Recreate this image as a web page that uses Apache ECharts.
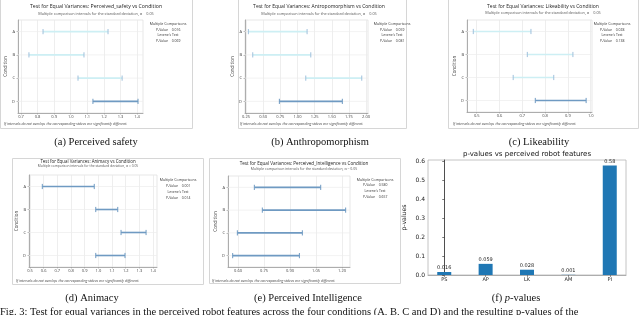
<!DOCTYPE html>
<html>
<head>
<meta charset="utf-8">
<script src="https://cdn.jsdelivr.net/npm/echarts@6/dist/echarts.min.js"></script>
<style>
html,body{margin:0;padding:0;background:#fff;}
#main{width:640px;height:315px;}
</style>
</head>
<body>
<div id="main"></div>
<script>
// ---------- DATA ----------
// Condition categories, bottom to top on the y axis
const conditionAxis = ['D', 'C', 'B', 'A'];
// Interval values are listed in A, B, C, D order
const safetyLow  = [0.833, 0.748, 1.044, 1.134];
const safetyHigh = [1.225, 1.080, 1.310, 1.406];
const safetyLight = [1, 1, 1, 0];
const safetyTicks = [0.7, 0.8, 0.9, 1.0, 1.1, 1.2, 1.3, 1.4];

const anthroLow  = [0.284, 0.348, 1.121, 0.736];
const anthroHigh = [1.140, 1.194, 1.937, 1.654];
const anthroLight = [1, 1, 1, 0];
const anthroTicks = [0.25, 0.50, 0.75, 1.00, 1.25, 1.50, 1.75, 2.00];

const likeLow  = [0.485, 0.722, 0.660, 0.757];
const likeHigh = [0.738, 0.922, 0.838, 0.980];
const likeLight = [1, 1, 1, 0];
const likeTicks = [0.5, 0.6, 0.7, 0.8, 0.9, 1.0];

const animLow  = [0.590, 0.981, 1.166, 0.981];
const animHigh = [0.970, 1.142, 1.349, 1.195];
const animLight = [0, 0, 0, 0];
const animTicks = [0.5, 0.6, 0.7, 0.8, 0.9, 1.0, 1.1, 1.2, 1.3, 1.4];

const intelLow  = [0.694, 0.740, 0.596, 0.569];
const intelHigh = [1.077, 1.221, 0.971, 0.954];
const intelLight = [0, 0, 0, 0];
const intelTicks = [0.60, 0.75, 0.90, 1.05, 1.20];

const multCompP = ['0.016', '0.059', '0.028', '0.001', '0.580'];
const leveneP   = ['0.069', '0.081', '0.138', '0.014', '0.657'];

const pFeatures = ['PS', 'AP', 'LK', 'AM', 'PI'];
const pValues = [0.016, 0.059, 0.028, 0.001, 0.58];
const pValueLabels = ['0.016', '0.059', '0.028', '0.001', '0.58'];
const pTicks = [0, 0.1, 0.2, 0.3, 0.4, 0.5, 0.6];

const panelTitles = [
  'Test for Equal Variances: Perceived_safety vs Condition',
  'Test for Equal Variances: Antropomorphism vs Condition',
  'Test for Equal Variances: Likeability vs Condition',
  'Test for Equal Variances: Animacy vs Condition',
  'Test for Equal Variances: Perceived_Intelligence vs Condition'
];
const subTitle = 'Multiple comparison intervals for the standard deviation, \u03b1 = 0.05';
const footNote = 'If intervals do not overlap, the corresponding stdevs are significantly different.';
const captions = ['(a) Perceived safety', '(b) Anthropomorphism', '(c) Likeability', '(d) Animacy', '(e) Perceived Intelligence'];

// ---------- LAYOUT ----------
const SANS = '"Open Sans", "Noto Sans", sans-serif';
const SERIF = '"Liberation Serif", "DejaVu Serif", serif';
const MPL = '"DejaVu Sans", sans-serif';

const panels = [
  { low: safetyLow, high: safetyHigh, light: safetyLight, ticks: safetyTicks, dec: 1,
    grid: {left: 18, top: 20, width: 125, height: 93}, min: 0.682, max: 1.436,
    box: [0, -2, 192, 130], title: [96, 7, 5.2], sub: [96, 14, 3.8], nameGap: 8,
    legend: [168, 24, 5.6], foot: [4, 124], cap: [96, 142] },
  { low: anthroLow, high: anthroHigh, light: anthroLight, ticks: anthroTicks, dec: 2,
    grid: {left: 245, top: 20, width: 123, height: 93}, min: 0.235, max: 2.028,
    box: [238, -2, 168, 130], title: [319, 7, 5.0], sub: [319, 13.7, 3.8], nameGap: 10,
    legend: [392, 24.3, 5.6], foot: [240, 124], cap: [320, 142] },
  { low: likeLow, high: likeHigh, light: likeLight, ticks: likeTicks, dec: 1,
    grid: {left: 467, top: 20, width: 125, height: 92}, min: 0.4575, max: 1.0057,
    box: [448, -2, 190, 130], title: [543, 7, 5.0], sub: [543, 13, 3.8], nameGap: 9,
    legend: [612, 24, 5.7], foot: [453, 124], cap: [539, 142] },
  { low: animLow, high: animHigh, light: animLight, ticks: animTicks, dec: 1,
    grid: {left: 29, top: 175, width: 128, height: 92}, min: 0.4927, max: 1.429,
    box: [12, 158, 191, 126], title: [88, 161.7, 4.4], sub: [88, 166, 3.3], nameGap: 9,
    legend: [178, 180, 6], foot: [16, 281], cap: [92, 298] },
  { low: intelLow, high: intelHigh, light: intelLight, ticks: intelTicks, dec: 2,
    grid: {left: 228, top: 176, width: 122, height: 91}, min: 0.542, max: 1.246,
    box: [209, 158, 191, 125], title: [304, 164, 4.6], sub: [304, 169, 3.5], nameGap: 10,
    legend: [375, 179.5, 5.8], foot: [212, 281], cap: [308, 298] }
];

const DARK = '#6f9ac2';
const LIGHT = '#cdeff4';
const LIGHTCAP = '#9fc0dc';

function renderInterval(params, api) {
  const cat = api.value(0);
  const lo = api.coord([api.value(1), cat]);
  const hi = api.coord([api.value(2), cat]);
  const cs = params.coordSys;
  const light = api.value(3) === 1;
  const col = light ? LIGHT : DARK;
  const cap = light ? LIGHTCAP : DARK;
  const h = 2.6;
  return {
    type: 'group',
    children: [
      {type: 'line', shape: {x1: cs.x, y1: lo[1], x2: cs.x + cs.width, y2: lo[1]},
       style: {stroke: '#ececec', lineWidth: 0.7}},
      {type: 'line', shape: {x1: lo[0], y1: lo[1], x2: hi[0], y2: hi[1]},
       style: {stroke: col, lineWidth: 1.6}},
      {type: 'line', shape: {x1: lo[0], y1: lo[1] - h, x2: lo[0], y2: lo[1] + h},
       style: {stroke: cap, lineWidth: 1}},
      {type: 'line', shape: {x1: hi[0], y1: hi[1] - h, x2: hi[0], y2: hi[1] + h},
       style: {stroke: cap, lineWidth: 1}}
    ]
  };
}

const grids = [], xAxes = [], yAxes = [], series = [], graphics = [];

function txt(x, y, text, size, extra) {
  graphics.push({
    type: 'text', x: x, y: y, silent: true,
    style: Object.assign({text: text, fontSize: size, fontFamily: SANS, fill: '#333',
      align: 'center', verticalAlign: 'middle'}, extra || {})
  });
}

panels.forEach((p, i) => {
  grids.push(Object.assign({show: true, borderColor: '#dcdcdc', borderWidth: 0.7, backgroundColor: 'transparent'}, p.grid));
  xAxes.push({
    type: 'value', gridIndex: i, min: p.min, max: p.max,
    axisLine: {show: true, lineStyle: {color: '#9a9a9a', width: 0.8}},
    axisTick: {show: true, length: 1.5, customValues: p.ticks, lineStyle: {color: '#9a9a9a', width: 0.6}},
    axisLabel: {customValues: p.ticks, fontSize: 4, color: '#444', fontFamily: SANS, margin: 2,
      formatter: v => v.toFixed(p.dec)},
    splitLine: {show: true, lineStyle: {color: '#e6e6e6', width: 0.7}}
  });
  yAxes.push({
    type: 'category', gridIndex: i, data: conditionAxis,
    name: 'Condition', nameLocation: 'middle', nameRotate: 90, nameGap: p.nameGap,
    nameTextStyle: {fontSize: 4.5, color: '#444', fontFamily: SANS},
    axisLine: {show: true, lineStyle: {color: '#9a9a9a', width: 0.8}},
    axisTick: {show: true, length: 1.5, alignWithLabel: true, lineStyle: {color: '#9a9a9a', width: 0.6}},
    axisLabel: {fontSize: 4, color: '#444', fontFamily: SANS, margin: 3},
    splitLine: {show: false}
  });
  series.push({
    type: 'custom', xAxisIndex: i, yAxisIndex: i,
    renderItem: renderInterval,
    encode: {x: [1, 2], y: 0},
    data: p.low.map((lo, k) => [3 - k, lo, p.high[k], p.light[k]]),
    silent: true, animation: false
  });
  // panel frame
  graphics.push({type: 'rect', silent: true, z: -1,
    shape: {x: p.box[0] + 0.5, y: p.box[1] + 0.5, width: p.box[2], height: p.box[3]},
    style: {fill: 'none', stroke: '#d6d6d6', lineWidth: 1}});
  txt(p.title[0], p.title[1], panelTitles[i], p.title[2], {fill: '#222'});
  txt(p.sub[0], p.sub[1], subTitle, p.sub[2], {fill: '#555'});
  const lx = p.legend[0], ly = p.legend[1], ls = p.legend[2];
  txt(lx, ly, 'Multiple Comparisons', 3.6);
  txt(lx - 6, ly + ls, 'P-Value', 3.4);
  txt(lx + 8, ly + ls, multCompP[i], 3.4);
  txt(lx, ly + 2 * ls, "Levene's Test", 3.4);
  txt(lx - 6, ly + 3 * ls, 'P-Value', 3.4);
  txt(lx + 8, ly + 3 * ls, leveneP[i], 3.4);
  txt(p.foot[0], p.foot[1], footNote, 3.6, {align: 'left', fontStyle: 'italic', fill: '#444'});
  txt(p.cap[0], p.cap[1], captions[i], 10.5, {fontFamily: SERIF, fill: '#111'});
});

// ---------- p-value bar chart ----------
grids.push({left: 428, top: 160, width: 198, height: 115, show: true, borderColor: '#b5b5b5', borderWidth: 0.8});
xAxes.push({
  type: 'value', gridIndex: 5, min: -0.3925, max: 4.3925,
  axisLine: {show: true, onZero: false, lineStyle: {color: '#a0a0a0', width: 0.8}},
  axisTick: {show: true, length: 2, customValues: [0, 1, 2, 3, 4], lineStyle: {color: '#555', width: 0.6}},
  axisLabel: {customValues: [0, 1, 2, 3, 4], fontSize: 5, color: '#222', fontFamily: MPL, margin: 2,
    formatter: v => pFeatures[Math.round(v)]},
  splitLine: {show: false}
});
yAxes.push({
  type: 'value', gridIndex: 5, min: 0, max: 0.609,
  name: 'p-values', nameLocation: 'middle', nameRotate: 90, nameGap: 21,
  nameTextStyle: {fontSize: 6.2, color: '#222', fontFamily: MPL},
  axisLine: {show: true, lineStyle: {color: '#222', width: 0.8}},
  axisTick: {show: true, length: 2, customValues: pTicks, lineStyle: {color: '#222', width: 0.6}},
  axisLabel: {customValues: pTicks, fontSize: 6, color: '#222', fontFamily: MPL, margin: 3,
    formatter: v => v.toFixed(1)},
  splitLine: {show: false}
});
series.push({
  type: 'bar', xAxisIndex: 5, yAxisIndex: 5, barWidth: 14,
  data: pValues.map((v, i) => [i, v]),
  itemStyle: {color: '#1f77b4'},
  label: {show: true, position: 'top', distance: 1.5, fontSize: 5, color: '#222', fontFamily: MPL,
    formatter: prm => pValueLabels[prm.dataIndex]},
  silent: true, animation: false
});
txt(527, 154, 'p-values vs perceived robot features', 7, {fontFamily: MPL, fill: '#111'});
graphics.push({type: 'text', x: 516, y: 298, silent: true,
  style: {text: '{n|(f) }{i|p}{n|-values}', align: 'center', verticalAlign: 'middle',
    rich: {n: {fontSize: 10.5, fontFamily: SERIF, fill: '#111'},
           i: {fontSize: 10.5, fontFamily: SERIF, fontStyle: 'italic', fill: '#111'}}}});

// figure caption (cut by the bottom edge)
txt(0, 312, 'Fig. 3: Test for equal variances in the perceived robot features across the four conditions (A, B, C and D) and the resulting p-values of the', 10.5,
  {fontFamily: SERIF, fill: '#111', align: 'left'});

const chart = echarts.init(document.getElementById('main'), null, {renderer: 'canvas'});
chart.setOption({
  backgroundColor: '#fff',
  animation: false,
  grid: grids,
  xAxis: xAxes,
  yAxis: yAxes,
  series: series,
  graphic: graphics
});
</script>
</body>
</html>
